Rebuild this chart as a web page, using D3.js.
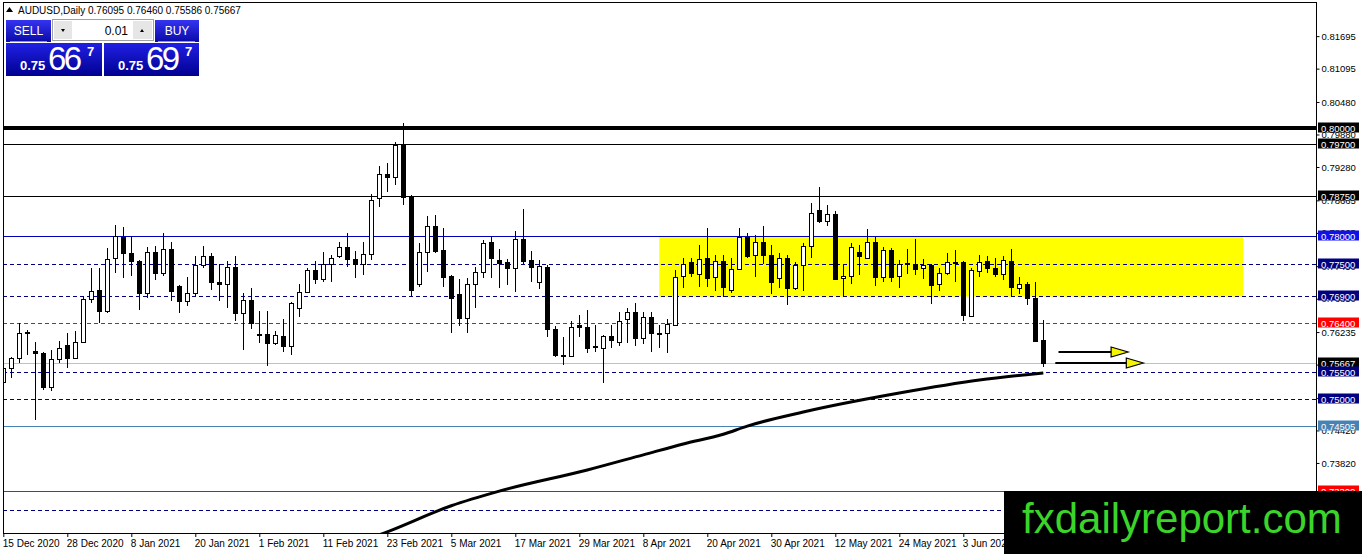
<!DOCTYPE html>
<html>
<head>
<meta charset="utf-8">
<script src="https://cdn.jsdelivr.net/npm/d3@7"></script>
<style>
  body { margin: 0; background: #fff; }
  svg { display: block; font-family: "Liberation Sans", Arial, sans-serif; }
</style>
</head>
<body>
<svg id="chart" width="1362" height="554"></svg>
<script>
// AUDUSD daily candles, 15 Dec 2020 .. 17 Jun 2021
const open = [
  .7532,.7557,.7575,.7622,.7589,.7584,.7522,.7573,.7599,.7575,
  .7606,.7685,.7702,.7663,.7760,.7799,.7770,.7755,.7695,.7771,
  .7732,.7776,.7708,.7680,.7695,.7747,.7764,.7716,.7712,.7743,
  .7659,.7683,.7620,.7620,.7604,.7616,.7598,.7667,.7698,.7738,
  .7721,.7750,.7763,.7780,.7758,.7749,.7767,.7870,.7915,.7910,
  .7969,.7873,.7712,.7771,.7819,.7775,.7727,.7694,.7649,.7712,
  .7734,.7789,.7756,.7753,.7741,.7796,.7756,.7715,.7744,.7629,
  .7582,.7580,.7637,.7632,.7597,.7595,.7616,.7605,.7647,.7661,
  .7612,.7651,.7621,.7621,.7637,.7727,.7752,.7731,.7760,.7725,
  .7755,.7702,.7739,.7799,.7766,.7789,.7766,.7723,.7760,.7704,
  .7747,.7782,.7849,.7829,.7841,.7724,.7727,.7771,.7761,.7790,
  .7726,.7774,.7727,.7751,.7750,.7741,.7747,.7712,.7732,.7753,
  .7753,.7653,.7736,.7755,.7741,.7730,.7755,.7704,.7712,.7686,
  .76095]
const high = [
  .7572,.7578,.7640,.7627,.7606,.7587,.7590,.7607,.7621,.7625,
  .7689,.7741,.7741,.7778,.7821,.7817,.7801,.7757,.7781,.7782,
  .7807,.7790,.7710,.7725,.7763,.7782,.7770,.7749,.7755,.7764,
  .7696,.7704,.7663,.7662,.7625,.7648,.7679,.7713,.7741,.7755,
  .7771,.7766,.7790,.7806,.7773,.7790,.7878,.7930,.7935,.7974,
  .8009,.7876,.7788,.7838,.7839,.7815,.7729,.7721,.7724,.7744,
  .7793,.7799,.7776,.7758,.7810,.7851,.7773,.7756,.7747,.7635,
  .7615,.7643,.7655,.7664,.7637,.7618,.7637,.7661,.7668,.7677,
  .7660,.7660,.7637,.7648,.7738,.7761,.7760,.7784,.7816,.7766,
  .7766,.7760,.7815,.7807,.7803,.7819,.7784,.7769,.7766,.7753,
  .7787,.7861,.7892,.7858,.7846,.7747,.7787,.7784,.7813,.7798,
  .7781,.7778,.7756,.7776,.7796,.7758,.7749,.7741,.7770,.7774,
  .7755,.7741,.7766,.7763,.7761,.7763,.7777,.7726,.7716,.7716,
  .76460]
const low = [
  .7507,.7538,.7566,.7581,.7461,.7517,.7515,.7567,.7557,.7575,
  .7603,.7678,.7641,.7659,.7733,.7724,.7727,.7665,.7686,.7720,
  .7727,.7681,.7658,.7672,.7689,.7741,.7701,.7681,.7668,.7643,
  .7590,.7630,.7604,.7561,.7600,.7587,.7581,.7651,.7696,.7712,
  .7716,.7716,.7760,.7744,.7724,.7729,.7756,.7855,.7881,.7895,
  .7858,.7689,.7707,.7735,.7770,.7707,.7621,.7635,.7621,.7667,
  .7723,.7724,.7705,.7710,.7698,.7749,.7716,.7703,.7615,.7578,
  .7563,.7578,.7614,.7584,.7587,.7530,.7595,.7597,.7604,.7598,
  .7601,.7587,.7594,.7584,.7635,.7705,.7725,.7707,.7707,.7699,
  .7689,.7695,.7738,.7760,.7725,.7750,.7694,.7704,.7673,.7702,
  .7700,.7761,.7825,.7819,.7720,.7688,.7712,.7729,.7758,.7708,
  .7716,.7716,.7705,.7731,.7729,.7721,.7675,.7700,.7729,.7715,
  .7644,.7651,.7726,.7732,.7725,.7720,.7688,.7694,.7673,.7606,
  .75586]
const close = [
  .7557,.7575,.7621,.7623,.7585,.7522,.7573,.7594,.7575,.7605,
  .7685,.7699,.7663,.7758,.7801,.7769,.7755,.7695,.7771,.7732,
  .7776,.7700,.7680,.7695,.7747,.7763,.7716,.7712,.7743,.7659,
  .7683,.7641,.7619,.7604,.7618,.7598,.7677,.7698,.7738,.7721,
  .7750,.7760,.7780,.7758,.7749,.7767,.7868,.7915,.7910,.7969,
  .7872,.7702,.7771,.7819,.7773,.7726,.7686,.7649,.7713,.7734,
  .7787,.7761,.7751,.7741,.7796,.7755,.7744,.7745,.7629,.7581,
  .7579,.7633,.7632,.7595,.7596,.7616,.7609,.7644,.7660,.7612,
  .7651,.7621,.7622,.7638,.7726,.7750,.7733,.7758,.7724,.7755,
  .7706,.7739,.7799,.7763,.7789,.7766,.7715,.7760,.7704,.7747,
  .7782,.7843,.7829,.7841,.7721,.7727,.7780,.7763,.7790,.7726,
  .7774,.7726,.7750,.7750,.7740,.7747,.7710,.7732,.7752,.7752,
  .7655,.7738,.7753,.7741,.7730,.7756,.7706,.7712,.7686,.7607,
  .75667]

// long moving average, read at a few bars
const maIndex = [44, 48, 56, 62, 73, 80, 85, 90, 93, 100, 112, 122, 130]
const maValue = [.7233, .7255, .7303, .7330, .7369, .7397, .7417, .7435, .7450, .7476, .7511, .7535, .7548]

// date labels on the time axis (bar index -> text)
const dateIndex = [0, 8, 16, 24, 32, 40, 48, 56, 64, 72, 80, 88, 96, 104, 112, 120]
const dateLabels = ["15 Dec 2020", "28 Dec 2020", "8 Jan 2021", "20 Jan 2021", "1 Feb 2021", "11 Feb 2021",
  "23 Feb 2021", "5 Mar 2021", "17 Mar 2021", "29 Mar 2021", "8 Apr 2021", "20 Apr 2021", "30 Apr 2021",
  "12 May 2021", "24 May 2021", "3 Jun 2021"]

// price scale ticks
const priceTicks = [.81695, .81095, .80480, .79880, .79280, .78665, .78065, .77450, .76850, .76235,
  .75635, .75020, .74420, .73820, .73205]

// horizontal levels drawn on the chart
const levelPrice = [.80000, .79700, .78750, .78000, .77500, .76900, .76400, .75667, .75500, .75000, .74505, .73300, .72950]
const levelKind = ["major", "black", "black", "blue", "dash", "dash", "reddash", "bid", "dash", "dash", "steel", "red", "dash"]

// yellow range box and the two arrows
const boxFrom = 82, boxTo = 155, boxTop = .7800, boxBottom = .7689
const arrowFrom = [131.9, 131.5]
const arrowTo = [140.6, 142.5]
const arrowPrice = [.7587, .7566]

const levelStyle = {
  major:   { stroke: "#000", width: 4, dash: null, box: "#000" },
  black:   { stroke: "#000", width: 1, dash: null, box: "#000" },
  blue:    { stroke: "#0000b4", width: 1, dash: null, box: "#1010e8" },
  dash:    { stroke: "#000080", width: 1, dash: "4,3", box: "#000080" },
  reddash: { stroke: "#ff0000", width: 1, dash: "4,3", box: "#ff0000" },
  bid:     { stroke: "#c0c0c0", width: 1, dash: null, box: "#000" },
  steel:   { stroke: "#4682b4", width: 1, dash: null, box: "#4682b4" },
  red:     { stroke: "#ff0000", width: 1, dash: null, box: "#ff0000" }
}

const svg = d3.select("#chart")
const plotL = 3, plotR = 1317, plotT = 2, plotB = 533

let x = d3.scaleLinear().domain([0, 164]).range([3.3, 3.3 + 8 * 164])
let y = d3.scaleLinear().domain([0.80, 0.75]).range([128, 399])
const px = i => Math.round(x(i)) + 0.5

svg.append("rect").attr("width", 1362).attr("height", 554).attr("fill", "#fff")

let defs = svg.append("defs")
defs.append("clipPath").attr("id", "plot")
  .append("rect").attr("x", plotL).attr("y", plotT).attr("width", plotR - plotL).attr("height", plotB - plotT)

let plot = svg.append("g").attr("clip-path", "url(#plot)")

// yellow box
plot.append("rect")
  .attr("x", x(boxFrom)).attr("y", y(boxTop))
  .attr("width", x(boxTo) - x(boxFrom)).attr("height", y(boxBottom) - y(boxTop))
  .attr("fill", "#ffff00")

// levels
levelPrice.forEach((p, k) => {
  let s = levelStyle[levelKind[k]]
  let yy = Math.round(y(p)) + (s.width % 2 ? 0.5 : 0)
  plot.append("line")
    .attr("x1", plotL).attr("x2", plotR).attr("y1", yy).attr("y2", yy)
    .attr("stroke", s.stroke).attr("stroke-width", s.width)
    .attr("stroke-dasharray", s.dash)
})

// moving average
let ma = d3.line().x((d, k) => x(maIndex[k])).y(d => y(d)).curve(d3.curveMonotoneX)
plot.append("path").datum(maValue)
  .attr("d", ma).attr("fill", "none").attr("stroke", "#000").attr("stroke-width", 3)

// candles
open.forEach((o, i) => {
  let c = close[i], up = c >= o
  let cx = px(i)
  plot.append("line")
    .attr("x1", cx).attr("x2", cx)
    .attr("y1", Math.round(y(high[i]))).attr("y2", Math.round(y(low[i])))
    .attr("stroke", "#000").attr("stroke-width", 1)
  let y0 = Math.round(y(Math.max(o, c))), y1 = Math.round(y(Math.min(o, c)))
  plot.append("rect")
    .attr("x", cx - 2).attr("y", y0 + 0.5)
    .attr("width", 4).attr("height", Math.max(y1 - y0, 1))
    .attr("fill", up ? "#fff" : "#000").attr("stroke", "#000").attr("stroke-width", 1)
})

// arrows
arrowPrice.forEach((p, k) => {
  let yy = Math.round(y(p))
  let x0 = x(arrowFrom[k]), x1 = x(arrowTo[k])
  plot.append("line").attr("x1", x0).attr("x2", x1 - 16).attr("y1", yy).attr("y2", yy)
    .attr("stroke", "#000").attr("stroke-width", 2)
  plot.append("path")
    .attr("d", `M${x1 - 17},${yy - 5}L${x1},${yy}L${x1 - 17},${yy + 5}Z`)
    .attr("fill", "#f5f500").attr("stroke", "#000").attr("stroke-width", 1.2)
})

// frame
svg.append("rect").attr("x", plotL + 0.5).attr("y", plotT + 0.5)
  .attr("width", plotR - plotL - 1).attr("height", plotB - plotT)
  .attr("fill", "none").attr("stroke", "#000")

// price axis
let yAxis = svg.append("g").attr("transform", `translate(${plotR - 0.5},0)`)
  .call(d3.axisRight(y).tickValues(priceTicks).tickFormat(d3.format(".5f")).tickSize(3).tickPadding(2))
yAxis.select(".domain").remove()
yAxis.selectAll("text").attr("font-size", 9.5).attr("fill", "#000")
  .attr("font-family", "Liberation Sans, Arial, sans-serif")

// level price boxes
levelPrice.forEach((p, k) => {
  let s = levelStyle[levelKind[k]]
  let yy = Math.round(y(p))
  svg.append("rect").attr("x", plotR + 1).attr("y", yy - 5.5).attr("width", 41).attr("height", 10)
    .attr("fill", s.box)
  svg.append("text").attr("x", plotR + 4).attr("y", yy + 3.5)
    .attr("font-size", 9.5).attr("fill", "#fff").text(d3.format(".5f")(p))
})

// time axis
let xAxis = svg.append("g").attr("transform", `translate(0,${plotB})`)
  .call(d3.axisBottom(x).tickValues(dateIndex).tickFormat((d, k) => dateLabels[k]).tickSize(4).tickPadding(3))
xAxis.select(".domain").remove()
xAxis.selectAll("text").attr("text-anchor", "start").attr("dx", -1)
  .attr("font-size", 10).attr("fill", "#000").attr("font-family", "Liberation Sans, Arial, sans-serif")

// header
svg.append("path").attr("d", "M6,12L9.5,7L13,12Z").attr("fill", "#000")
svg.append("text").attr("x", 18).attr("y", 14).attr("font-size", 10)
  .text("AUDUSD,Daily  0.76095 0.76460 0.75586 0.75667")

// one-click trading panel
let grad = defs.append("linearGradient").attr("id", "btn").attr("x1", 0).attr("y1", 0).attr("x2", 0).attr("y2", 1)
grad.append("stop").attr("offset", "0%").attr("stop-color", "#3434f2")
grad.append("stop").attr("offset", "100%").attr("stop-color", "#0a0aa8")
let grad2 = defs.append("linearGradient").attr("id", "big").attr("x1", 0).attr("y1", 0).attr("x2", 0).attr("y2", 1)
grad2.append("stop").attr("offset", "0%").attr("stop-color", "#2020e4")
grad2.append("stop").attr("offset", "100%").attr("stop-color", "#000090")

let panel = svg.append("g")
panel.append("rect").attr("x", 6).attr("y", 20).attr("width", 45).attr("height", 22).attr("fill", "url(#btn)")
panel.append("rect").attr("x", 155).attr("y", 20).attr("width", 44).attr("height", 22).attr("fill", "url(#btn)")
panel.append("line").attr("x1", 10).attr("x2", 47).attr("y1", 41.5).attr("y2", 41.5).attr("stroke", "#8c8cf0")
panel.append("line").attr("x1", 158).attr("x2", 195).attr("y1", 41.5).attr("y2", 41.5).attr("stroke", "#8c8cf0")
panel.append("text").attr("x", 28.5).attr("y", 35).attr("text-anchor", "middle").attr("font-size", 12)
  .attr("fill", "#fff").text("SELL")
panel.append("text").attr("x", 177).attr("y", 35).attr("text-anchor", "middle").attr("font-size", 12)
  .attr("fill", "#fff").text("BUY")
panel.append("rect").attr("x", 52.5).attr("y", 19.5).attr("width", 101).attr("height", 21)
  .attr("fill", "#fff").attr("stroke", "#a0a0a0")
panel.append("rect").attr("x", 54).attr("y", 21).attr("width", 18).attr("height", 18).attr("fill", "#e6e6e6")
panel.append("rect").attr("x", 133).attr("y", 21).attr("width", 19).attr("height", 18).attr("fill", "#e6e6e6")
panel.append("path").attr("d", "M61,29L65,29L63,32Z").attr("fill", "#000")
panel.append("path").attr("d", "M140,32L144,32L142,29Z").attr("fill", "#000")
panel.append("text").attr("x", 128).attr("y", 35).attr("text-anchor", "end").attr("font-size", 12).text("0.01")

panel.append("rect").attr("x", 6).attr("y", 43).attr("width", 96).attr("height", 33).attr("fill", "url(#big)")
panel.append("rect").attr("x", 104).attr("y", 43).attr("width", 95).attr("height", 33).attr("fill", "url(#big)")
;[[20, "66"], [118, "69"]].forEach(([bx, big]) => {
  panel.append("text").attr("x", bx).attr("y", 70).attr("font-size", 13).attr("font-weight", "bold")
    .attr("fill", "#fff").text("0.75")
  panel.append("text").attr("x", bx + 28).attr("y", 70).attr("font-size", 33)
    .attr("fill", "#fff").attr("textLength", 34).text(big)
  panel.append("text").attr("x", bx + 67).attr("y", 56).attr("font-size", 13).attr("font-weight", "bold")
    .attr("fill", "#fff").text("7")
})

// watermark
svg.append("rect").attr("x", 1004).attr("y", 491).attr("width", 358).attr("height", 63).attr("fill", "#000")
svg.append("text").attr("x", 1022).attr("y", 533).attr("font-size", 42).attr("fill", "#3bd42a")
  .text("fxdailyreport.com")
</script>
</body>
</html>
